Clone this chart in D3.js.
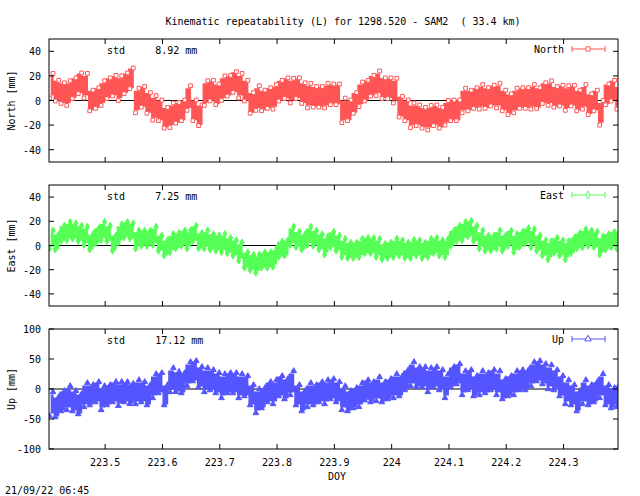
<!DOCTYPE html>
<html><head><meta charset="utf-8">
<script src="https://cdn.jsdelivr.net/npm/d3@7"></script>
<style>body{margin:0;background:#fff}text{font-family:"DejaVu Sans Mono",monospace;font-size:10px;fill:#000}</style>
</head><body><svg id="c" width="640" height="496"></svg>
<script>
const doy = [223.405,223.415,223.425,223.435,223.445,223.455,223.465,223.475,223.485,223.495,
223.505,223.515,223.525,223.535,223.545,223.555,223.565,223.575,223.585,223.595,
223.605,223.615,223.625,223.635,223.645,223.655,223.665,223.675,223.685,223.695,
223.705,223.715,223.725,223.735,223.745,223.755,223.765,223.775,223.785,223.795,
223.805,223.815,223.825,223.835,223.845,223.855,223.865,223.875,223.885,223.895,
223.905,223.915,223.925,223.935,223.945,223.955,223.965,223.975,223.985,223.995,
224.005,224.015,224.025,224.035,224.045,224.055,224.065,224.075,224.085,224.095,
224.105,224.115,224.125,224.135,224.145,224.155,224.165,224.175,224.185,224.195,
224.205,224.215,224.225,224.235,224.245,224.255,224.265,224.275,224.285,224.295,
224.305,224.315,224.325,224.335,224.345,224.355,224.365,224.375,224.385,224.395];
const north = [12,8,6,6,10,14,12,0,2,6,10,12,10,14,18,0,3,-2,-6,-8,
-14,-12,-10,-8,2,-8,-12,6,8,5,10,12,15,12,8,-2,2,0,2,3,
8,10,8,10,6,4,3,3,4,5,5,-8,-8,-2,5,8,12,14,10,10,
8,-5,-8,-12,-12,-14,-14,-12,-14,-10,-8,-8,0,0,2,3,2,4,4,0,
-3,0,2,2,3,2,6,6,3,4,2,4,0,3,-3,0,-10,5,8,3];
const east = [5,3,10,12,12,10,8,3,8,12,10,2,10,13,12,5,6,6,8,2,
-2,2,4,6,5,10,4,5,3,2,2,0,-2,-5,-12,-14,-15,-12,-12,-10,
-3,-2,8,5,3,8,6,3,0,5,2,-2,-4,-4,-2,0,0,-2,-5,-4,
-2,-2,-4,-3,-2,-4,-2,0,-2,-2,6,10,12,14,10,5,2,2,5,2,
6,2,5,8,6,2,-2,-4,0,-2,-4,0,4,6,6,5,0,3,5,5];
const up = [-25,-30,-20,-15,-20,-25,-10,-10,-5,-15,-10,-5,-8,-5,-8,-5,-5,-10,5,10,
-10,15,12,10,25,30,20,15,15,10,5,10,10,5,5,-10,-20,-15,-5,-5,
5,0,10,-10,-20,-10,-10,-5,-5,0,-5,-15,-20,-15,-10,-2,-5,0,-5,0,
5,5,15,25,20,20,15,20,15,5,20,25,10,15,5,10,10,15,10,0,
5,10,15,15,25,30,25,20,15,5,-5,-10,-20,-5,-10,-5,5,-10,-15,-10];
const panels = [
 {name:"North", vals:north, std:"8.92", dom:[-50,50], ticks:[-40,-20,0,20,40], col:"#ff5555", top:39, bot:162, spread:8, mark:"square"},
 {name:"East", vals:east, std:"7.25", dom:[-50,50], ticks:[-40,-20,0,20,40], col:"#55ff55", top:185, bot:306, spread:6, mark:"diamond"},
 {name:"Up", vals:up, std:"17.12", dom:[-100,100], ticks:[-100,-50,0,50,100], col:"#5555ff", top:329, bot:449, spread:16, mark:"triangle"}];
const xTicks = [223.5,223.6,223.7,223.8,223.9,224,224.1,224.2,224.3];
const svg = d3.select("#c");
const L=49,R=618;
const x = d3.scaleLinear().domain([223.402,224.395]).range([L,R]);
svg.append("text").attr("x",343).attr("y",25).attr("text-anchor","middle").attr("xml:space","preserve")
 .text("Kinematic repeatability (L) for 1298.520 - SAM2  ( 33.4 km)");
panels.forEach((p,pi)=>{
 const y = d3.scaleLinear().domain(p.dom).range([p.bot,p.top]);
 const g = svg.append("g");
 const clip = "cl"+pi;
 svg.append("clipPath").attr("id",clip).append("rect").attr("x",L).attr("y",p.top).attr("width",R-L).attr("height",p.bot-p.top);
 g.append("line").attr("x1",L).attr("x2",R).attr("y1",y(0)).attr("y2",y(0)).attr("stroke","#000");
 const dg = g.append("g").attr("clip-path",`url(#${clip})`);
 const area = d3.area().x((d,i)=>x(doy[i])).y0(d=>y(d-p.spread)).y1(d=>y(d+p.spread)).curve(d3.curveStep);
 dg.append("path").datum(p.vals).attr("d",area).attr("fill",p.col);
 const sym = {square:d3.symbolSquare,diamond:d3.symbolDiamond,triangle:d3.symbolTriangle}[p.mark];
 const pts=[];
 p.vals.forEach((v,i)=>{[-1,1].forEach(s=>pts.push([doy[i]+(s>0?0.004:-0.002), v+s*p.spread*(i%3===0?1.25:1.05)]));});
 dg.selectAll("path.m").data(pts).enter().append("path").attr("class","m")
  .attr("transform",d=>`translate(${x(d[0])},${y(d[1])})`).attr("d",d3.symbol(sym,14)())
  .attr("fill",p.mark==="square"?"#fff":p.col).attr("stroke",p.col);
 g.append("rect").attr("x",L).attr("y",p.top).attr("width",R-L).attr("height",p.bot-p.top).attr("fill","none").attr("stroke","#000");
 p.ticks.forEach(t=>{
  g.append("line").attr("x1",L).attr("x2",L+5).attr("y1",y(t)).attr("y2",y(t)).attr("stroke","#000");
  g.append("line").attr("x1",R).attr("x2",R-5).attr("y1",y(t)).attr("y2",y(t)).attr("stroke","#000");
  g.append("text").attr("x",L-8).attr("y",y(t)+4).attr("text-anchor","end").text(t);
 });
 xTicks.forEach(t=>{
  g.append("line").attr("x1",x(t)).attr("x2",x(t)).attr("y1",p.bot).attr("y2",p.bot-5).attr("stroke","#000");
  g.append("line").attr("x1",x(t)).attr("x2",x(t)).attr("y1",p.top).attr("y2",p.top+5).attr("stroke","#000");
  if(pi===2) g.append("text").attr("x",x(t)).attr("y",p.bot+17).attr("text-anchor","middle").text(t);
 });
 g.append("text").attr("transform",`translate(15,${(p.top+p.bot)/2}) rotate(-90)`).attr("text-anchor","middle").text(p.name+" [mm]");
 g.append("text").attr("x",107).attr("y",p.top+15).attr("xml:space","preserve").text("std     "+p.std+" mm");
 g.append("text").attr("x",564).attr("y",p.top+14).attr("text-anchor","end").text(p.name);
 const ly=p.top+10;
 g.append("line").attr("x1",572).attr("x2",605).attr("y1",ly).attr("y2",ly).attr("stroke",p.col);
 [572,605].forEach(xx=>g.append("line").attr("x1",xx).attr("x2",xx).attr("y1",ly-3).attr("y2",ly+3).attr("stroke",p.col));
 g.append("path").attr("transform",`translate(588,${ly})`).attr("d",d3.symbol(sym,18)()).attr("fill","#fff").attr("stroke",p.col);
});
svg.append("text").attr("x",337).attr("y",480).attr("text-anchor","middle").text("DOY");
svg.append("text").attr("x",5).attr("y",494).text("21/09/22 06:45");
</script></body></html>
